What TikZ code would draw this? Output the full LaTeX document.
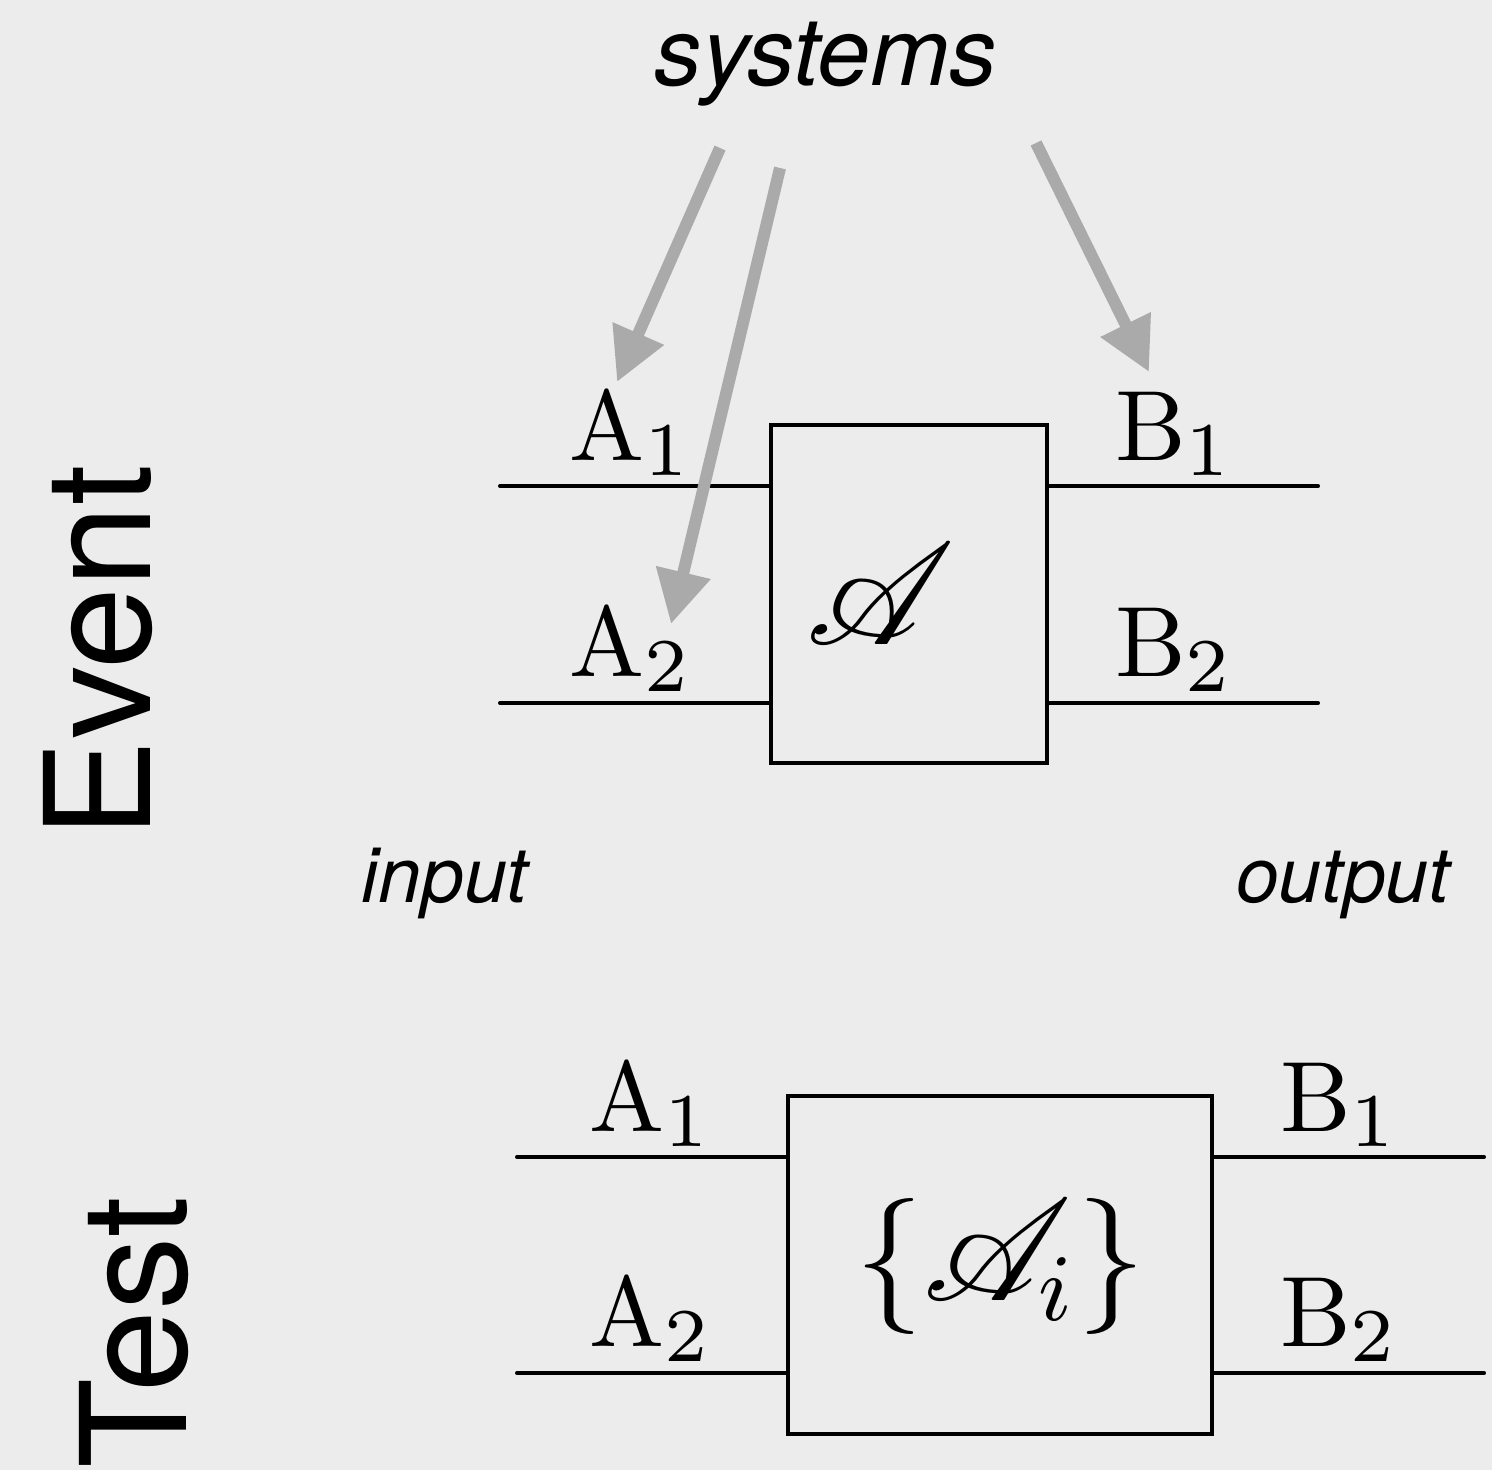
\RequirePackage{fix-cm}
\documentclass[tikz,border=0pt]{standalone}
\usepackage{fontspec}
\usepackage{mathrsfs}
\usetikzlibrary{arrows.meta}
\newfontfamily\labelsans{TeX Gyre Heros}
\DeclareMathSizes{10}{10}{7.6}{5}
\definecolor{paper}{RGB}{236,236,236}
\definecolor{pointer}{RGB}{170,170,170}

\begin{document}
\begin{tikzpicture}[x=0.1pt,y=-0.1pt,
  wire/.style={line width=0.4pt, line cap=round},
  device/.style={draw, line width=0.4pt, inner sep=0pt, minimum height=33.8pt},
  content/.style={inner sep=0pt, font=\fontsize{13.6}{16}\selectfont},
  port/.style={anchor=base west, inner sep=0pt, font=\fontsize{10}{12}\selectfont},
  caption/.style={anchor=base, inner sep=0pt, font=\labelsans\itshape\fontsize{7.7}{9}\selectfont},
  heading/.style={rotate=90, anchor=base west, inner sep=0pt, font=\labelsans\fontsize{14.7}{17}\selectfont},
  pointerarrow/.style={draw=pointer, line width=1.2pt,
    -{Triangle[length=5.3pt,width=5.3pt,fill=pointer]}}
]
% canvas
\fill[paper] (0,0) rectangle (1492,1470);
\useasboundingbox (0,0) rectangle (1492,1470);

% side headings
\node[heading] (hev) at (150,840) {Event};
\node[heading] (hts) at (187,1470) {Test};

% ---- event ----
\node[device, minimum width=27.6pt] (ev) at (909,594) {};
\node[content] (evA) at (881,594) {$\mathscr{A}$};
\coordinate (ei1) at (500,486);
\coordinate (ei2) at (500,703);
\coordinate (eo1) at (1318,486);
\coordinate (eo2) at (1318,703);
\draw[wire] (ei1) -- (ei1 -| ev.west);
\draw[wire] (ei2) -- (ei2 -| ev.west);
\draw[wire] (ev.east |- eo1) -- (eo1);
\draw[wire] (ev.east |- eo2) -- (eo2);
\node[port] (ea1) at (567,460) {$\mathrm{A}_1$};
\node[port] (ea2) at (567,676) {$\mathrm{A}_2$};
\node[port] (eb1) at (1113,460) {$\mathrm{B}_1$};
\node[port] (eb2) at (1113,676) {$\mathrm{B}_2$};

\node[caption] (in) at (445,902) {input};
\node[caption] (out) at (1343,902) {output};

% ---- test ----
\node[device, minimum width=42.4pt] (ts) at (1000,1265) {};
\node[content] (tsA) at (1000,1266) {$\{\mathscr{A}_i\}$};
\coordinate (ti1) at (517,1157);
\coordinate (ti2) at (517,1373);
\coordinate (to1) at (1484,1157);
\coordinate (to2) at (1484,1373);
\draw[wire] (ti1) -- (ti1 -| ts.west);
\draw[wire] (ti2) -- (ti2 -| ts.west);
\draw[wire] (ts.east |- to1) -- (to1);
\draw[wire] (ts.east |- to2) -- (to2);
\node[port] (ta1) at (587,1131) {$\mathrm{A}_1$};
\node[port] (ta2) at (587,1346) {$\mathrm{A}_2$};
\node[port] (tb1) at (1278,1131) {$\mathrm{B}_1$};
\node[port] (tb2) at (1278,1346) {$\mathrm{B}_2$};

% ---- systems pointers ----
\node[caption, font=\labelsans\itshape\fontsize{9.5}{11}\selectfont] (sys) at (826,85) {systems};
\coordinate (s1) at (720,148);
\coordinate (t1) at (617,382);
\coordinate (s2) at (780,168);
\coordinate (t2) at (671,624);
\coordinate (s3) at (1036,143);
\coordinate (t3) at (1149,372);
\draw[pointerarrow] (s1) -- (t1);
\draw[pointerarrow] (s2) -- (t2);
\draw[pointerarrow] (s3) -- (t3);
\end{tikzpicture}
\end{document}
